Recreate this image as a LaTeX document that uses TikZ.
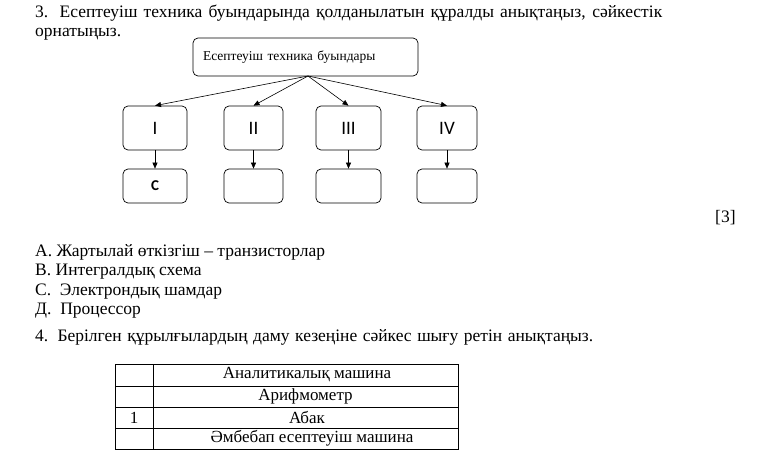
\documentclass[tikz,border=0pt]{standalone}
\usepackage{fontspec}
\setmainfont{Liberation Serif}
\newfontfamily\numfont{Carlito}
\usepackage{tikz}
\usetikzlibrary{arrows.meta,positioning,calc}

\begin{document}
\begin{tikzpicture}[x=1pt,y=-1pt,
    gen/.style={draw, rounded corners=5pt, line width=0.7pt, minimum height=44pt, font=\numfont\fontsize{19}{19}\selectfont},
    ans/.style={draw, rounded corners=5pt, line width=0.7pt, minimum height=34pt, font=\numfont\bfseries\fontsize{15}{15}\selectfont},
    link/.style={-{Triangle[length=6pt,width=5pt]}, line width=0.6pt},
    txt/.style={anchor=base west, inner sep=0pt, font=\fontsize{17.5}{17.5}\selectfont},
    cell/.style={font=\fontsize{17}{17}\selectfont}]
  \useasboundingbox (0,0) rectangle (767,468);
  % question 3
  \node[txt] (q3a) at (35,18) {\makebox[627pt][s]{3. Есептеуіш техника буындарында қолданылатын құралды анықтаңыз, сәйкестік}};
  \node[txt] (q3b) at (35,37) {орнатыңыз.};
  % tree
  \node[draw, rounded corners=5pt, line width=0.7pt, minimum width=225pt, minimum height=38pt,
        text width=205pt, align=left, font=\fontsize{13.5}{13.5}\selectfont] (top) at (305.5,57) {Есептеуіш техника буындары};
  \coordinate (hub) at (308,76);
  \node[gen, minimum width=64pt] (g1) at (155,128) {I};
  \node[gen, minimum width=59pt] (g2) at (253.5,128) {II};
  \node[gen, minimum width=65pt] (g3) at (348.5,128) {III};
  \node[gen, minimum width=60pt] (g4) at (447,128) {IV};
  \node[ans, minimum width=64pt] (a1) at (155,186) {C};
  \node[ans, minimum width=59pt] (a2) at (253.5,186) {};
  \node[ans, minimum width=65pt] (a3) at (348.5,186) {};
  \node[ans, minimum width=60pt] (a4) at (447,186) {};
  \foreach \i in {1,...,4}{
    \draw[link] (hub) -- (g\i.north);
    \draw[link] (g\i.south) -- (a\i.north);
  }
  \node[txt] (mark) at (715,222) {[3]};
  % options
  \node[txt] (oa) at (35,256) {А. Жартылай өткізгіш – транзисторлар};
  \node[txt] (ob) at (35,275) {В. Интегралдық схема};
  \node[txt] (oc) at (35,295) {С.\ \ Электрондық шамдар};
  \node[txt] (od) at (35,314) {Д.\ \ Процессор};
  % question 4
  \node[txt] (q4) at (35,341) {\makebox[558pt][s]{4. Берілген құрылғылардың даму кезеңіне сәйкес шығу ретін анықтаңыз.}};
  % table
  \draw[line width=0.6pt] (115,364) rectangle (458,449);
  \draw[line width=0.6pt] (153,364) -- (153,449);
  \foreach \y in {386,407,428}{\draw[line width=0.6pt] (115,\y) -- (458,\y);}
  \node[cell] (r1) at (307,375) {Аналитикалық машина};
  \node[cell] (r2) at (305.5,396.5) {Арифмометр};
  \node[cell] (r3) at (307,417.5) {Абак};
  \node[cell] (r4) at (312,438.5) {Әмбебап есептеуіш машина};
  \node[cell] (n3) at (134,417.5) {1};
\end{tikzpicture}
\end{document}
